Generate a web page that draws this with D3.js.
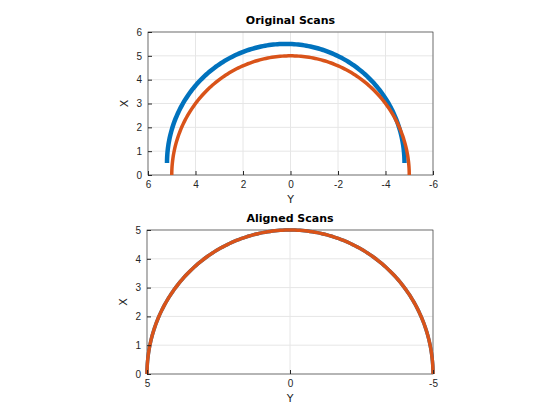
<!DOCTYPE html>
<html><head><meta charset="utf-8">
<script src="https://cdn.jsdelivr.net/npm/d3@7"></script>
<style>
body{margin:0;background:#fff;font-family:"DejaVu Sans",sans-serif;}
.axis text{font-size:10px;fill:#262626;}
.axis path,.axis line{stroke:#262626;}
</style></head><body>
<svg id="chart" width="560" height="420"></svg>
<script>
// Scan parameters (semicircle of radius 5)
const radius = 5;
const angleDeg = d3.range(0, 180.5, 1);
const blueOffset = { y: 0.2, x: 0.5 };
const redOffset = { y: 0, x: 0 };

const topYTicks = [6, 4, 2, 0, -2, -4, -6];
const topXTicks = [0, 1, 2, 3, 4, 5, 6];
const botYTicks = [5, 0, -5];
const botXTicks = [0, 1, 2, 3, 4, 5];

function scan(off) {
  return angleDeg.map(a => ({
    y: radius * Math.cos(a * Math.PI / 180) + off.y,
    x: radius * Math.sin(a * Math.PI / 180) + off.x
  }));
}

const fmt = d => String(d);
const svg = d3.select('#chart');

function panel(opts) {
  const { left, right, top, bottom, yDom, xDom, yTicks, xTicks, title, series } = opts;
  const sx = d3.scaleLinear().domain(yDom).range([left, right]);
  const sy = d3.scaleLinear().domain(xDom).range([bottom, top]);
  const g = svg.append('g');

  // grid
  g.selectAll('.gv').data(yTicks).enter().append('line')
    .attr('x1', d => sx(d)).attr('x2', d => sx(d)).attr('y1', top).attr('y2', bottom)
    .attr('stroke', '#e6e6e6');
  g.selectAll('.gh').data(xTicks).enter().append('line')
    .attr('y1', d => sy(d)).attr('y2', d => sy(d)).attr('x1', left).attr('x2', right)
    .attr('stroke', '#e6e6e6');

  g.append('rect').attr('x', left).attr('y', top)
    .attr('width', right - left).attr('height', bottom - top)
    .attr('fill', 'none').attr('stroke', '#262626').attr('stroke-width', 0.6);

  const line = d3.line().x(d => sx(d.y)).y(d => sy(d.x));
  series.forEach(s => {
    g.append('path').datum(s.pts).attr('d', line)
      .attr('fill', 'none').attr('stroke', s.color).attr('stroke-width', s.w || 3.5);
  });

  g.append('g').attr('class', 'axis').attr('transform', `translate(0,${bottom})`)
    .call(d3.axisBottom(sx).tickValues(yTicks).tickFormat(fmt).tickSize(-4).tickPadding(6).tickSizeOuter(0))
    .select('.domain').remove();
  g.append('g').attr('class', 'axis').attr('transform', `translate(${left},0)`)
    .call(d3.axisLeft(sy).tickValues(xTicks).tickFormat(fmt).tickSize(-4).tickPadding(6).tickSizeOuter(0))
    .select('.domain').remove();

  g.append('text').attr('x', (left + right) / 2).attr('y', top - 8)
    .attr('text-anchor', 'middle').style('font-size', '11px').style('font-weight', 'bold')
    .text(title);
  g.append('text').attr('x', (left + right) / 2).attr('y', bottom + 28)
    .attr('text-anchor', 'middle').style('font-size', '11px').attr('fill', '#262626').text('Y');
  g.append('text').attr('transform', `translate(${left - 20},${(top + bottom) / 2}) rotate(-90)`)
    .attr('text-anchor', 'middle').style('font-size', '11px').attr('fill', '#262626').text('X');
}

panel({
  left: 148, right: 433, top: 32, bottom: 175,
  yDom: [6, -6], xDom: [0, 6], yTicks: topYTicks, xTicks: topXTicks,
  title: 'Original Scans',
  series: [
    { pts: scan(blueOffset), color: '#0072BD', w: 4.5 },
    { pts: scan(redOffset), color: '#D95319' }
  ]
});

panel({
  left: 147, right: 433, top: 230, bottom: 374,
  yDom: [5, -5], xDom: [0, 5], yTicks: botYTicks, xTicks: botXTicks,
  title: 'Aligned Scans',
  series: [
    { pts: scan(redOffset), color: '#0072BD' },
    { pts: scan(redOffset), color: '#D95319' }
  ]
});
</script></body></html>
